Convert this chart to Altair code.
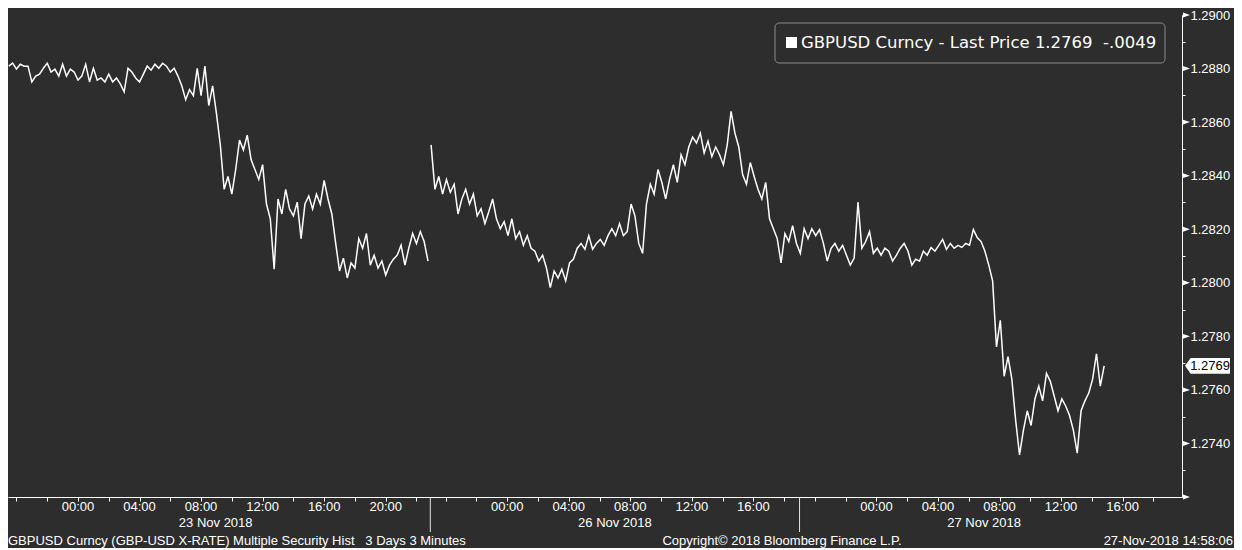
import altair as alt
import pandas as pd

BG = "#2d2d2d"
FG = "#ffffff"
FONT = "Liberation Sans"

# ---- data (chart hours: 0 = 23 Nov 00:00, weekend compressed) ----
step = 0.25  # 15-minute samples
nov23_start = -4.5
nov23_price = [
    1.28809, 1.28820, 1.28798, 1.28816, 1.28809, 1.28809, 1.28750, 1.28772, 1.28779, 1.28801,
    1.28820, 1.28787, 1.28798, 1.28772, 1.28816, 1.28772, 1.28798, 1.28787, 1.28757, 1.28772,
    1.28816, 1.28750, 1.28801, 1.28757, 1.28765, 1.28750, 1.28779, 1.28750, 1.28765, 1.28743,
    1.28713, 1.28801, 1.28787, 1.28765, 1.28750, 1.28779, 1.28809, 1.28794, 1.28816, 1.28801,
    1.28820, 1.28809, 1.28787, 1.28801, 1.28772, 1.28735, 1.28684, 1.28721, 1.28699, 1.28801,
    1.28699, 1.28809, 1.28662, 1.28735, 1.28632, 1.28515, 1.28349, 1.28397, 1.28331, 1.28423,
    1.28533, 1.28496, 1.28551, 1.28460, 1.28423, 1.28386, 1.28441, 1.28294, 1.28239, 1.28051,
    1.28313, 1.28257, 1.28349, 1.28276, 1.28250, 1.28301, 1.28165, 1.28294, 1.28324, 1.28276,
    1.28331, 1.28294, 1.28382, 1.28313, 1.28257, 1.28147, 1.28044, 1.28092, 1.28018, 1.28074,
    1.28055, 1.28165, 1.28129, 1.28184, 1.28066, 1.28103, 1.28055, 1.28081, 1.28029, 1.28066,
    1.28088, 1.28103, 1.28140, 1.28066, 1.28129, 1.28184, 1.28147, 1.28191, 1.28154, 1.28081,
]
nov26_start = 22.95
nov26_27_price = [
    1.28515, 1.28349, 1.28397, 1.28331, 1.28386, 1.28338, 1.28368, 1.28257, 1.28313, 1.28349,
    1.28294, 1.28331, 1.28250, 1.28276, 1.28221, 1.28265, 1.28313, 1.28239, 1.28202, 1.28228,
    1.28176, 1.28239, 1.28165, 1.28191, 1.28140, 1.28176, 1.28129, 1.28118, 1.28081, 1.28103,
    1.28055, 1.27982, 1.28044, 1.28018, 1.28051, 1.28007, 1.28074, 1.28088, 1.28129, 1.28147,
    1.28125, 1.28176, 1.28125, 1.28147, 1.28162, 1.28140, 1.28176, 1.28202, 1.28176, 1.28221,
    1.28176, 1.28191, 1.28294, 1.28250, 1.28147, 1.28110, 1.28294, 1.28368, 1.28331, 1.28423,
    1.28375, 1.28313, 1.28386, 1.28441, 1.28375, 1.28478, 1.28441, 1.28507, 1.28544, 1.28522,
    1.28559, 1.28485, 1.28529, 1.28471, 1.28507, 1.28478, 1.28441, 1.28515, 1.28640, 1.28559,
    1.28507, 1.28404, 1.28368, 1.28449, 1.28397, 1.28349, 1.28313, 1.28375, 1.28239, 1.28202,
    1.28165, 1.28074, 1.28184, 1.28154, 1.28213, 1.28147, 1.28110, 1.28202, 1.28165, 1.28202,
    1.28176, 1.28199, 1.28147, 1.28081, 1.28129, 1.28147, 1.28118, 1.28140, 1.28103, 1.28066,
    1.28092, 1.28301, 1.28129, 1.28154, 1.28191, 1.28110, 1.28129, 1.28103, 1.28129, 1.28118,
    1.28081, 1.28103, 1.28129, 1.28147, 1.28118, 1.28066, 1.28088, 1.28081, 1.28118, 1.28103,
    1.28132, 1.28118, 1.28140, 1.28162, 1.28125, 1.28147, 1.28129, 1.28140, 1.28132, 1.28147,
    1.28140, 1.28199, 1.28169, 1.28154, 1.28118, 1.28066, 1.28007, 1.27761, 1.27860, 1.27651,
    1.27724, 1.27640, 1.27485, 1.27357, 1.27449, 1.27522, 1.27467, 1.27566, 1.27614, 1.27559,
    1.27662, 1.27632, 1.27577, 1.27522, 1.27566, 1.27540, 1.27504, 1.27449, 1.27364, 1.27522,
    1.27559, 1.27588, 1.27640, 1.27735, 1.27614, 1.27690,
]

x_tick_t = [-4, -2, 0, 2, 4, 6, 8, 10, 12, 14, 16, 18, 20, 22,
            23.9, 25.9, 27.9, 29.9, 31.9, 33.9, 35.9, 37.9, 39.9, 41.9, 43.9, 45.9,
            47.9, 49.9, 51.9, 53.9, 55.9, 57.9, 59.9, 61.9, 63.9, 65.9, 67.9, 69.9]
hour_label_t = [0, 4, 8, 12, 16, 20, 27.9, 31.9, 35.9, 39.9, 43.9,
                51.9, 55.9, 59.9, 63.9, 67.9]
hour_label_text = ["00:00", "04:00", "08:00", "12:00", "16:00", "20:00",
                   "00:00", "04:00", "08:00", "12:00", "16:00",
                   "00:00", "04:00", "08:00", "12:00", "16:00"]
date_label_t = [8.95, 34.9, 58.9]
date_label_text = ["23 Nov 2018", "26 Nov 2018", "27 Nov 2018"]
divider_t = [22.9, 46.9]

y_tick_values = [round(1.272 + 0.001 * k, 4) for k in range(19)]
y_major_values = [round(1.272 + 0.002 * k, 4) for k in range(10)]

series_name = "GBPUSD Curncy - Last Price"
last_price = 1.2769
last_change = "-.0049"
footer_left = "GBPUSD Curncy (GBP-USD X-RATE) Multiple Security Hist \u00a0 3 Days 3 Minutes"
footer_mid = "Copyright\u00a9 2018 Bloomberg Finance L.P."
footer_right = "27-Nov-2018 14:58:06"

# ---- tables ----
rows = []
for i, p in enumerate(nov23_price):
    rows.append({"t": nov23_start + step * i, "price": p, "seg": "a"})
for i, p in enumerate(nov26_27_price):
    rows.append({"t": nov26_start + step * i, "price": p, "seg": "b"})
df = pd.DataFrame(rows)

hours_df = pd.DataFrame({"t": hour_label_t, "label": hour_label_text})
dates_df = pd.DataFrame({"t": date_label_t, "label": date_label_text})
div_df = pd.DataFrame({"t": divider_t})
major_df = pd.DataFrame({"price": y_major_values})
last_df = pd.DataFrame({"price": [last_price], "label": [f"{last_price:.4f}"]})
legend_df = pd.DataFrame({"label": [f"{series_name} {last_price:.4f}\u00a0 {last_change}"]})

W, H = 1174, 482
x_scale = alt.Scale(domain=[-4.55, 71.76], nice=False, zero=False)
y_scale = alt.Scale(domain=[1.2720, 1.2900], nice=False, zero=False)

x_axis = alt.Axis(values=x_tick_t, labels=False, tickSize=4, tickColor=FG,
                  domainColor=FG, domainWidth=1, tickWidth=1, grid=False, title=None)
y_axis = alt.Axis(orient="right", values=y_tick_values, tickSize=3, tickColor=FG,
                  domainColor=FG, domainWidth=1, tickWidth=1, grid=False, title=None,
                  labelExpr="(round(datum.value*10000) % 20 == 0 && datum.value > 1.2721) ? format(datum.value, '.4f') : ''",
                  labelColor=FG, labelFont=FONT, labelFontSize=13, labelPadding=5,
                  labelOverlap=False, labelFlush=False, labelAlign="left",
                  labelBaseline="middle")

X = alt.X("t:Q", scale=x_scale, axis=x_axis)
Y = alt.Y("price:Q", scale=y_scale, axis=y_axis)

line = alt.Chart(df).mark_line(color=FG, strokeWidth=1.5, clip=True).encode(
    x=X, y=Y, detail="seg:N")

tri = alt.Chart(major_df).mark_point(
    shape="M-1,-0.7L1,0L-1,0.7Z", size=49, filled=True, color=FG, opacity=1, strokeWidth=0
).encode(x=alt.value(W + 4.5), y=Y)

tag = alt.Chart(last_df).mark_point(
    shape="M-1,0L-0.75,-0.35L1,-0.35L1,0.35L-0.75,0.35Z", size=2025, filled=True,
    color=FG, opacity=1, strokeWidth=0
).encode(x=alt.value(W + 25.5), y=Y)
tag_text = alt.Chart(last_df).mark_text(
    color="#000000", font=FONT, fontSize=13, align="center", baseline="middle"
).encode(x=alt.value(W + 28), y=Y, text="label:N")

hours = alt.Chart(hours_df).mark_text(
    color=FG, font=FONT, fontSize=13, align="center", baseline="middle"
).encode(x=X, y=alt.value(492), text="label:N")
dates = alt.Chart(dates_df).mark_text(
    color=FG, font=FONT, fontSize=13, align="center", baseline="middle"
).encode(x=X, y=alt.value(508), text="label:N")
dividers = alt.Chart(div_df).mark_rule(color="#e0e0e0", strokeWidth=1).encode(
    x=X, y=alt.value(482), y2=alt.value(517))

legend_box = alt.Chart(legend_df).mark_rect(
    fill=BG, stroke="#8c8c8c", strokeWidth=1, cornerRadius=4
).encode(x=alt.value(767), x2=alt.value(1157), y=alt.value(8), y2=alt.value(48))
legend_sq = alt.Chart(legend_df).mark_rect(fill=FG).encode(
    x=alt.value(778), x2=alt.value(789), y=alt.value(22), y2=alt.value(33))
legend_txt = alt.Chart(legend_df).mark_text(
    color=FG, font="DejaVu Sans", fontSize=16.5, align="left", baseline="middle"
).encode(x=alt.value(793), y=alt.value(28), text="label:N")

foot_l = alt.Chart(pd.DataFrame({"label": [footer_left]})).mark_text(
    color=FG, font=FONT, fontSize=13, align="left", baseline="middle"
).encode(x=alt.value(0), y=alt.value(526), text="label:N")
foot_m = alt.Chart(pd.DataFrame({"label": [footer_mid]})).mark_text(
    color=FG, font=FONT, fontSize=13, align="center", baseline="middle"
).encode(x=alt.value(774), y=alt.value(526), text="label:N")
foot_r = alt.Chart(pd.DataFrame({"label": [footer_right]})).mark_text(
    color=FG, font=FONT, fontSize=13, align="right", baseline="middle"
).encode(x=alt.value(W + 51), y=alt.value(526), text="label:N")

chart = alt.layer(
    line, dividers, hours, dates, tri, tag, tag_text,
    legend_box, legend_sq, legend_txt, foot_l, foot_m, foot_r
).properties(
    width=W, height=H,
    padding={"left": 0, "top": 7, "right": 52, "bottom": 51},
    autosize=alt.AutoSizeParams(type="none"),
    background=BG,
).configure_view(stroke=None)

chart.save("out.html", embed_options={"renderer": "svg", "actions": False})
